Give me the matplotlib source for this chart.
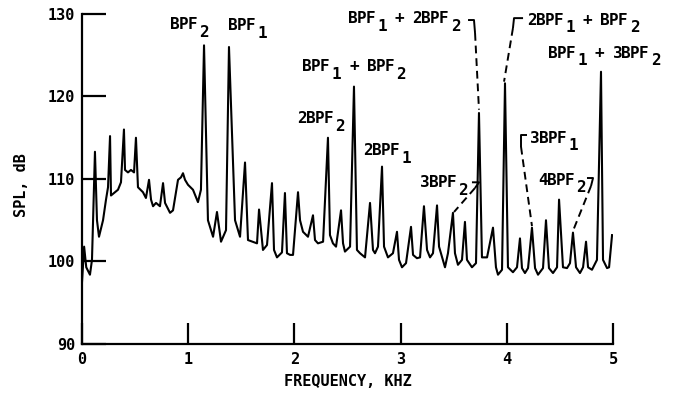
import matplotlib
matplotlib.use("Agg")
import matplotlib.pyplot as plt

# ---------------- data ----------------
freq_khz = [
    0.000, 0.020, 0.040, 0.075, 0.094, 0.122, 0.141, 0.160, 0.198, 0.226,
    0.245, 0.264, 0.273, 0.339, 0.367, 0.395, 0.405, 0.433, 0.461, 0.490,
    0.508, 0.527, 0.574, 0.602, 0.631, 0.650, 0.669, 0.697, 0.734, 0.763,
    0.782, 0.829, 0.857, 0.904, 0.932, 0.951, 0.970, 0.998, 1.045, 1.092,
    1.120, 1.149, 1.186, 1.234, 1.271, 1.309, 1.356, 1.384, 1.441, 1.488,
    1.535, 1.563, 1.648, 1.667, 1.704, 1.742, 1.789, 1.808, 1.836, 1.883,
    1.911, 1.930, 1.959, 1.987, 2.034, 2.053, 2.081, 2.128, 2.175, 2.194,
    2.222, 2.270, 2.316, 2.335, 2.363, 2.392, 2.439, 2.458, 2.476, 2.524,
    2.561, 2.589, 2.618, 2.665, 2.712, 2.740, 2.759, 2.787, 2.825, 2.844,
    2.881, 2.928, 2.966, 2.985, 3.013, 3.051, 3.098, 3.117, 3.154, 3.183,
    3.220, 3.249, 3.277, 3.305, 3.343, 3.362, 3.418, 3.446, 3.493, 3.512,
    3.540, 3.578, 3.606, 3.625, 3.672, 3.710, 3.738, 3.766, 3.814, 3.870,
    3.898, 3.917, 3.955, 3.983, 4.011, 4.058, 4.096, 4.124, 4.143, 4.171,
    4.200, 4.237, 4.266, 4.294, 4.341, 4.369, 4.397, 4.435, 4.473, 4.492,
    4.529, 4.567, 4.595, 4.623, 4.652, 4.689, 4.718, 4.746, 4.765, 4.802,
    4.849, 4.887, 4.906, 4.944, 4.963, 4.991,
]
spl_db = [
    97.5, 101.8, 99.3, 98.4, 100.2, 113.3, 105.0, 103.0, 105.0, 107.5,
    109.0, 115.2, 108.0, 108.7, 109.6, 116.0, 111.1, 110.8, 111.1, 110.8,
    115.0, 109.0, 108.4, 107.7, 109.9, 107.5, 106.7, 107.1, 106.7, 109.5,
    107.1, 105.9, 106.2, 109.9, 110.2, 110.7, 109.9, 109.3, 108.7, 107.2,
    108.7, 126.2, 105.0, 103.0, 106.0, 102.4, 103.8, 126.0, 105.0, 103.0,
    112.0, 102.6, 102.2, 106.3, 101.4, 102.0, 109.5, 101.4, 100.5, 101.1,
    108.3, 101.0, 100.8, 100.8, 108.4, 105.0, 103.6, 103.0, 105.6, 102.6,
    102.2, 102.4, 115.0, 103.2, 102.2, 101.8, 106.2, 102.2, 101.2, 101.8,
    121.2, 101.4, 101.0, 100.5, 107.1, 101.4, 101.0, 101.8, 111.5, 101.8,
    100.5, 101.0, 103.6, 100.2, 99.3, 99.8, 104.2, 100.8, 100.4, 100.5,
    106.7, 101.4, 100.5, 101.0, 106.8, 101.8, 99.3, 101.0, 105.9, 101.0,
    99.6, 100.2, 104.8, 100.2, 99.3, 99.8, 118.0, 100.5, 100.5, 104.1,
    99.3, 98.4, 99.0, 121.6, 99.3, 98.7, 99.3, 102.8, 99.2, 98.6,
    99.2, 104.1, 99.2, 98.4, 99.2, 105.0, 99.2, 98.6, 99.3, 107.5,
    99.3, 99.2, 99.8, 103.5, 99.3, 98.6, 99.3, 102.4, 99.3, 99.0,
    100.2, 123.0, 100.2, 99.2, 99.3, 103.2,
]

x_ticks = [0, 1, 2, 3, 4, 5]
x_tick_labels = ["0", "1", "2", "3", "4", "5"]
y_ticks = [90, 100, 110, 120, 130]
y_tick_labels = ["90", "100", "110", "120", "130"]
x_title = "FREQUENCY, KHZ"
y_title = "SPL, dB"

# peak labels ("_" marks the next character as subscript)
peak_labels = ["BPF_2", "BPF_1", "BPF_1 + BPF_2", "2BPF_2", "2BPF_1", "3BPF_2",
               "BPF_1 + 2BPF_2", "2BPF_1 + BPF_2", "BPF_1 + 3BPF_2", "3BPF_1", "4BPF_2"]
label_x = [0.829, 1.375, 2.072, 2.024, 2.646, 3.183, 2.505, 4.190, 4.388, 4.218, 4.294]
label_y = [128.15, 128.0, 123.1, 116.8, 112.9, 109.0, 128.9, 128.7, 124.7, 114.4, 109.3]

# leader lines: (solid hook points, dashed points)
leaders = [
    ([(3.635, 129.27), (3.691, 129.27), (3.701, 127.7)], [(3.701, 127.7), (3.738, 118.4)]),
    ([(4.153, 129.5), (4.068, 129.5), (4.058, 128.3)], [(4.058, 128.3), (3.974, 121.8)]),
    ([(3.672, 109.6), (3.738, 109.6), (3.700, 108.9)], [(3.700, 108.9), (3.503, 106.0)]),
    ([(4.190, 115.33), (4.134, 115.33), (4.134, 113.9)], [(4.134, 113.9), (4.237, 104.3)]),
    ([(4.755, 110.12), (4.812, 110.12), (4.793, 109.15)], [(4.793, 109.15), (4.623, 103.7)]),
]

# ---------------- style ----------------
plt.rcParams["font.family"] = ["DejaVu Sans Mono"]
plt.rcParams["font.weight"] = "bold"

FS = 11.5             # label glyph size
ADV = 0.602 * 10.5    # fixed monospace advance in points
SUB_DROP = 5.5        # subscript drop in points
SUB_GAP = 0.35        # extra gap before subscript (in chars)
TICK_FS = 11

fig = plt.figure(figsize=(6.77, 3.96), dpi=100)
ax = fig.add_axes([82 / 677, 52 / 396, 531 / 677, 330 / 396])

ax.plot(freq_khz, spl_db, color="black", lw=1.5)

ax.set_xlim(0, 5)
ax.set_ylim(90, 130)
for s in ("top", "right"):
    ax.spines[s].set_visible(False)
for s in ("left", "bottom"):
    ax.spines[s].set_linewidth(1.6)

ax.set_xticks(x_ticks)
ax.set_xticklabels(x_tick_labels, fontsize=TICK_FS, fontweight="bold")
ax.set_yticks(y_ticks)
ax.set_yticklabels(y_tick_labels, fontsize=TICK_FS, fontweight="bold")
ax.tick_params(axis="x", direction="in", length=15, width=1.6, pad=6)
ax.tick_params(axis="y", direction="in", length=17, width=1.6, pad=5)

ax.set_xlabel(x_title, fontsize=TICK_FS, fontweight="bold", labelpad=5)
fig.text(22 / 677, 1 - 185 / 396, y_title, rotation=90, fontsize=TICK_FS,
         fontweight="bold", ha="center", va="center")


def draw_label(ax, text, x, y):
    pos = 0.0
    i = 0
    while i < len(text):
        ch = text[i]
        if ch == "_":
            i += 1
            pos += SUB_GAP
            ax.annotate(text[i], xy=(x, y), xytext=(pos * ADV, -SUB_DROP),
                        textcoords="offset points", ha="left", va="baseline",
                        fontsize=FS, fontweight="bold")
            pos += 1
        else:
            if ch != " ":
                ax.annotate(ch, xy=(x, y), xytext=(pos * ADV, 0),
                            textcoords="offset points", ha="left", va="baseline",
                            fontsize=FS, fontweight="bold")
            pos += 1
        i += 1


for t, lx, ly in zip(peak_labels, label_x, label_y):
    draw_label(ax, t, lx, ly)

for hook, dash in leaders:
    ax.plot([p[0] for p in hook], [p[1] for p in hook], color="black", lw=1.4,
            solid_capstyle="butt", clip_on=False)
    ax.plot([p[0] for p in dash], [p[1] for p in dash], color="black", lw=1.4,
            linestyle=(0, (4, 2.5)), clip_on=False)

fig.savefig("out.png", dpi=100)
